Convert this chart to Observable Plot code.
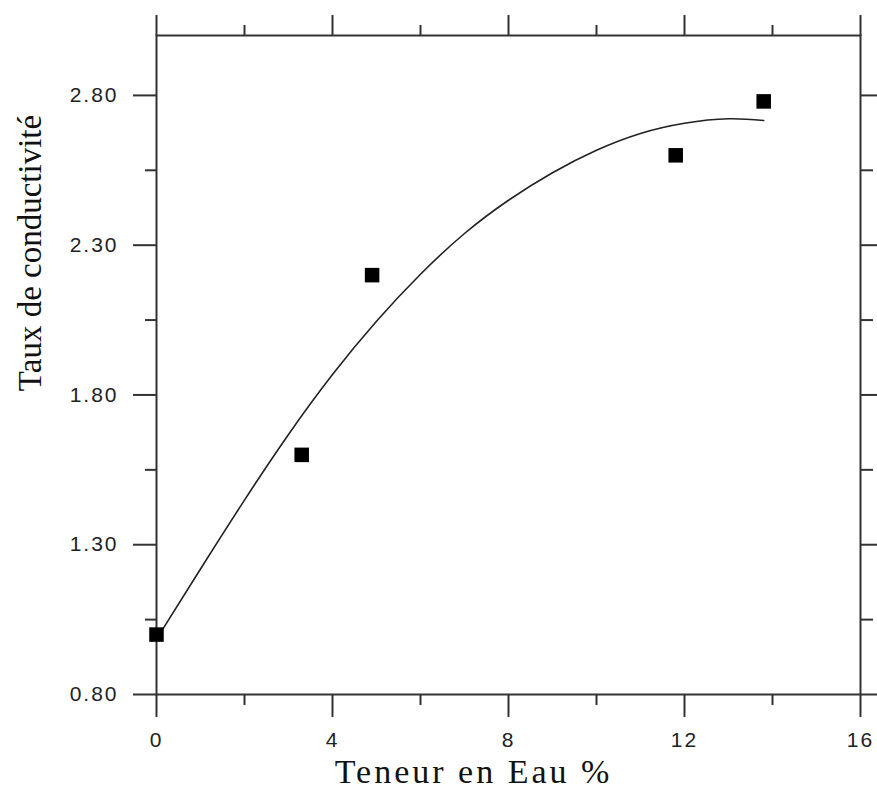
<!DOCTYPE html>
<html>
<head>
<meta charset="utf-8">
<script src="https://cdn.jsdelivr.net/npm/d3@7"></script>
<script src="https://cdn.jsdelivr.net/npm/@observablehq/plot@0.6"></script>
<style>
  html, body { margin: 0; padding: 0; background: #fff; }
  g[aria-label$="tick label"] text { letter-spacing: 2px; }
</style>
</head>
<body>
<div id="chart"></div>
<script>
// Measured points
const waterContent = [0, 3.3, 4.9, 11.8, 13.8];
const conductivity = [1.00, 1.60, 2.20, 2.60, 2.78];

// Fitted curve
const fitX = [0, 1, 2, 3, 4, 5, 6, 7, 8, 9, 10, 11, 12, 13, 13.8];
const fitY = [0.985, 1.219, 1.449, 1.668, 1.868, 2.046, 2.203, 2.339, 2.45, 2.542, 2.617, 2.673, 2.707, 2.722, 2.716];

// Ticks
const xTicks = [0, 4, 8, 12, 16];
const xMinor = [2, 6, 10, 14];
const yTicks = [0.80, 1.30, 1.80, 2.30, 2.80];
const yMinor = [1.05, 1.55, 2.05, 2.55];

const xTitle = "Teneur en Eau %";
const yTitle = "Taux de conductivité";

const points = waterContent.map((x, i) => ({x, y: conductivity[i]}));
const fit = fitX.map((x, i) => ({x, y: fitY[i]}));

const axisStroke = "#333";

const chart = Plot.plot({
  width: 877,
  height: 791,
  marginLeft: 156,
  marginRight: 17,
  marginTop: 35,
  marginBottom: 97,
  x: {domain: [0, 16]},
  y: {domain: [0.8, 3.0]},
  style: {fontFamily: "'Liberation Sans', Arial, sans-serif", fontSize: "21px", color: "#222", background: "#fff", overflow: "visible"},
  marks: [
    Plot.frame({stroke: axisStroke, strokeWidth: 2}),
    // bottom
    Plot.axisX({anchor: "bottom", ticks: xTicks, tickSize: 23, tickPadding: 15, tickFormat: d => String(d), label: null, stroke: axisStroke, strokeWidth: 2, fontSize: 21}),
    Plot.axisX({anchor: "bottom", ticks: xMinor, tickSize: 11, text: null, label: null, stroke: axisStroke, strokeWidth: 2}),
    // top
    Plot.axisX({anchor: "top", ticks: xTicks, tickSize: 21, text: null, label: null, stroke: axisStroke, strokeWidth: 2}),
    Plot.axisX({anchor: "top", ticks: xMinor, tickSize: 11, text: null, label: null, stroke: axisStroke, strokeWidth: 2}),
    // left
    Plot.axisY({anchor: "left", ticks: yTicks, tickSize: 23, tickPadding: 15, tickFormat: d3.format(".2f"), label: null, stroke: axisStroke, strokeWidth: 2, fontSize: 21}),
    Plot.axisY({anchor: "left", ticks: yMinor, tickSize: 11, text: null, label: null, stroke: axisStroke, strokeWidth: 2}),
    // right
    Plot.axisY({anchor: "right", ticks: yTicks, tickSize: 23, text: null, label: null, stroke: axisStroke, strokeWidth: 2}),
    Plot.axisY({anchor: "right", ticks: yMinor, tickSize: 12, text: null, label: null, stroke: axisStroke, strokeWidth: 2}),
    // fitted curve
    Plot.line(fit, {x: "x", y: "y", curve: "natural", stroke: "#222", strokeWidth: 1.6}),
    // measured points
    Plot.dot(points, {x: "x", y: "y", symbol: "square", r: 8.2, fill: "#000", stroke: "none"}),
    // titles
    Plot.text([xTitle], {frameAnchor: "bottom", text: d => d, dx: -35, dy: 88, lineAnchor: "bottom", textAnchor: "middle",
      fontFamily: "'Liberation Serif', 'Times New Roman', serif", fontSize: 34, fill: "#111"}),
    Plot.text([yTitle], {frameAnchor: "left", text: d => d, rotate: -90, dx: -126, dy: -112, lineAnchor: "middle", textAnchor: "middle",
      fontFamily: "'Liberation Serif', 'Times New Roman', serif", fontSize: 33, fill: "#111"})
  ]
});

// widen the x title like the reference
d3.select(chart).selectAll("text").filter(function () { return this.textContent === xTitle; })
  .style("letter-spacing", "3px");

document.getElementById("chart").appendChild(chart);
</script>
</body>
</html>
